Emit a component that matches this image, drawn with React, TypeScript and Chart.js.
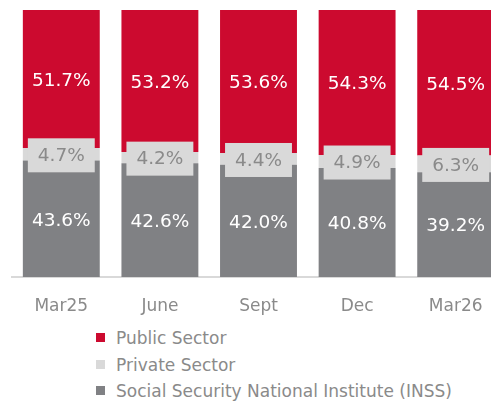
import React, { useEffect, useRef } from "react";
import { Chart, registerables } from "chart.js";

Chart.register(...registerables);

const categories = ["Mar25", "June", "Sept", "Dec", "Mar26"];
const inssValues = [43.6, 42.6, 42.0, 40.8, 39.2];
const privateValues = [4.7, 4.2, 4.4, 4.9, 6.3];
const publicValues = [51.7, 53.2, 53.6, 54.3, 54.5];
const legendLabels = ["Public Sector", "Private Sector", "Social Security National Institute (INSS)"];

const RED = "#cc0a2f";
const DARK = "#808184";
const LIGHT = "#d9d9d9";
const TEXT = "#8a8a8a";
const FONT = "'DejaVu Sans', sans-serif";

const labelPlugin = {
  id: "segLabels",
  afterDatasetsDraw(chart: any) {
    const ctx = chart.ctx;
    ctx.save();
    ctx.font = `18.5px ${FONT}`;
    ctx.textAlign = "center";
    ctx.textBaseline = "middle";
    chart.data.datasets.forEach((ds: any, di: number) => {
      const meta = chart.getDatasetMeta(di);
      meta.data.forEach((bar: any, i: number) => {
        const v = ds.data[i];
        const txt = v.toFixed(1) + "%";
        const cy = (bar.y + bar.base) / 2;
        if (di === 1) {
          const w = bar.width - 10;
          const h = 34;
          ctx.fillStyle = LIGHT;
          ctx.fillRect(bar.x - w / 2, cy - h / 2 + 1, w, h);
          ctx.fillStyle = TEXT;
          ctx.fillText(txt, bar.x, cy + 2);
        } else {
          ctx.fillStyle = "#ffffff";
          ctx.fillText(txt, bar.x, cy + 2);
        }
      });
    });
    ctx.restore();
  },
};

export default function App() {
  const ref = useRef<HTMLCanvasElement>(null);
  useEffect(() => {
    if (!ref.current) return;
    const chart = new Chart(ref.current, {
      type: "bar",
      data: {
        labels: categories,
        datasets: [
          { label: legendLabels[2], data: inssValues, backgroundColor: DARK },
          { label: legendLabels[1], data: privateValues, backgroundColor: LIGHT },
          { label: legendLabels[0], data: publicValues, backgroundColor: RED },
        ],
      },
      options: {
        responsive: false,
        animation: false,
        layout: { padding: { left: 12, top: 10, right: 1, bottom: 0 } },
        datasets: { bar: { barPercentage: 0.78, categoryPercentage: 1 } },
        plugins: { legend: { display: false }, tooltip: { enabled: false } },
        scales: {
          x: {
            stacked: true,
            grid: { display: false },
            border: { display: true, color: LIGHT, width: 2 },
            ticks: { color: TEXT, font: { family: FONT, size: 17 }, padding: 11 },
            afterFit: (s: any) => {
              s.height = 43;
            },
          },
          y: { stacked: true, display: false, min: 0, max: 100 },
        },
      },
      plugins: [labelPlugin],
    });
    return () => chart.destroy();
  }, []);

  const legendColors = [RED, LIGHT, DARK];
  const legendY = [337.5, 364.5, 390.5];

  return (
    <div style={{ position: "fixed", left: 0, top: 0, width: 491, height: 401, overflow: "hidden", background: "#fff" }}>
      <canvas ref={ref} width={506} height={320} style={{ position: "absolute", left: 0, top: 0 }} />
      {legendLabels.map((l, i) => (
        <div key={l} style={{ position: "absolute", left: 96, top: legendY[i] - 12, height: 24, display: "flex", alignItems: "center", fontFamily: FONT, fontSize: 17, color: TEXT, whiteSpace: "nowrap" }}>
          <span style={{ display: "inline-block", width: 9, height: 9, background: legendColors[i], marginRight: 11 }} />
          <span>{l}</span>
        </div>
      ))}
    </div>
  );
}
